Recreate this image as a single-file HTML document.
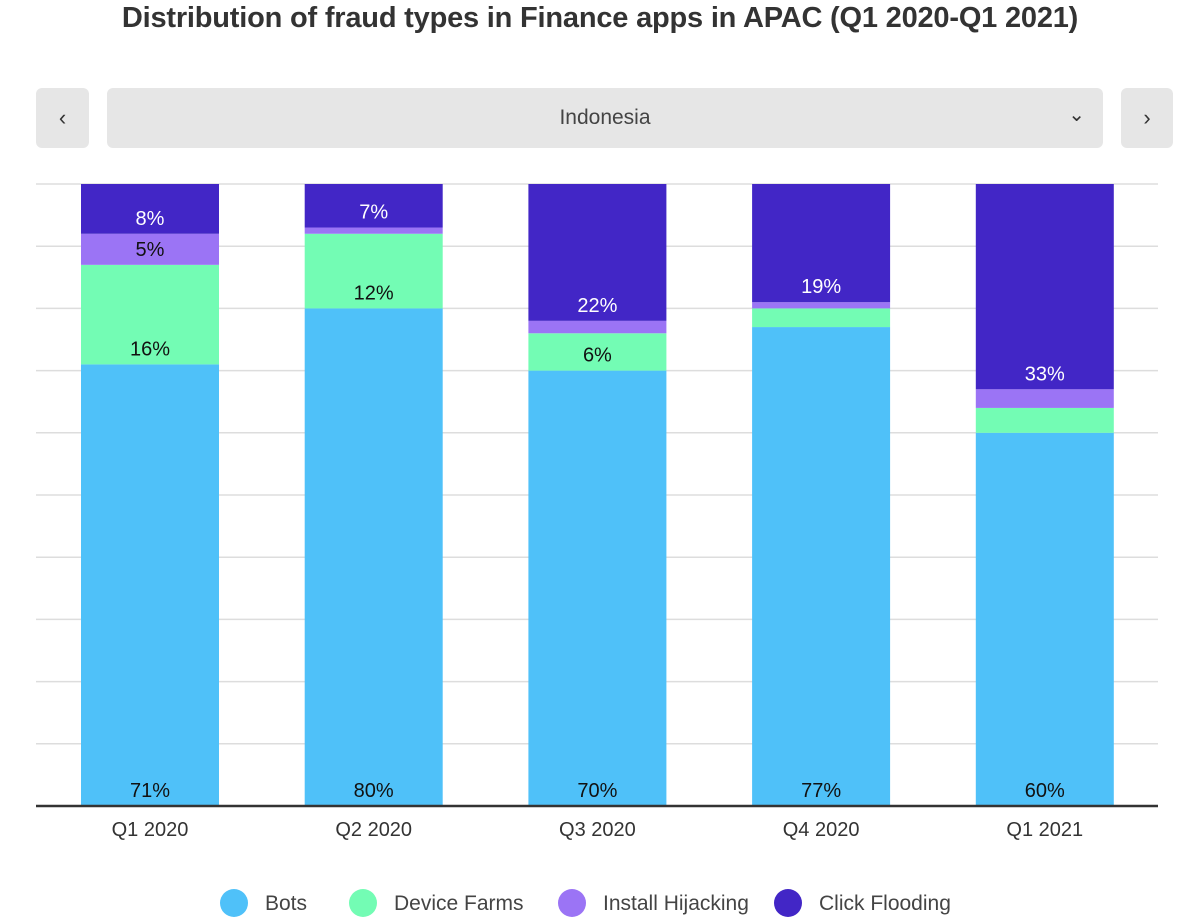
<!DOCTYPE html>
<html><head><meta charset="utf-8"><style>
body{margin:0;background:#fff;font-family:"Liberation Sans",sans-serif;}
.wrap{position:relative;width:1200px;height:922px;overflow:hidden}
h1{position:absolute;top:2px;left:0;width:1200px;text-align:center;margin:0;font-size:29px;font-weight:bold;color:#333;letter-spacing:-0.2px}
.btn{position:absolute;top:88px;height:60px;background:#e6e6e6;border-radius:6px;color:#333;font-size:22px;display:flex;align-items:center;justify-content:center}
</style></head><body>
<div class="wrap">
<h1>Distribution of fraud types in Finance apps in APAC (Q1 2020-Q1 2021)</h1>
<div class="btn" style="left:36px;width:53px">&#8249;</div>
<div class="btn" style="left:107px;width:996px"><span style="font-size:21px;color:#444">Indonesia</span><span style="position:absolute;right:18px;top:14px;font-size:20px">&#8964;</span></div>
<div class="btn" style="left:1121px;width:52px">&#8250;</div>
<svg id="chart" width="1200" height="922" style="position:absolute;left:0;top:0"></svg>
</div>
<script>
const categories=["Q1 2020","Q2 2020","Q3 2020","Q4 2020","Q1 2021"];
const seriesNames=["Bots","Device Farms","Install Hijacking","Click Flooding"];
const bots=[71,80,70,77,60];
const deviceFarms=[16,12,6,3,4];
const installHijacking=[5,1,2,1,3];
const clickFlooding=[8,7,22,19,33];
const colors=["#4fc1f9","#73fcb4","#9b74f5","#4226c6"];
const series=[bots,deviceFarms,installHijacking,clickFlooding];
const NS="http://www.w3.org/2000/svg";
const svg=document.getElementById('chart');
const y0=806,y1=184,left=36,right=1158;
const y=v=>y0-(y0-y1)*v/100;
const bw=138,step=223.7,firstX=81;
const xb=i=>firstX+i*step;
function mk(t,a){const e=document.createElementNS(NS,t);for(const k in a)e.setAttribute(k,a[k]);svg.appendChild(e);return e;}
for(let g=0;g<=100;g+=10){const l=mk('line',{x1:left,x2:right,y1:y(g),y2:y(g),stroke:'#ddd','stroke-width':1.5});

}
categories.forEach((c,i)=>{let acc=0;
 series.forEach((s,k)=>{const v=s[i];const r=mk('rect',{x:xb(i),y:y(acc+v),width:bw,height:y(acc)-y(acc+v),fill:colors[k]});
 
 
 if(v>=5){const t=mk('text',{x:xb(i)+bw/2,y:y(acc)-9,'text-anchor':'middle','font-size':20,fill:k==3?'#fff':'#111'});t.textContent=v+'%';
 
 }
 acc+=v;});
 const t=mk('text',{x:xb(i)+bw/2,y:836,'text-anchor':'middle','font-size':20,fill:'#333'});t.textContent=c;
 
 
});
const ax=mk('line',{x1:left,x2:right,y1:y0,y2:y0,stroke:'#333','stroke-width':2.5});


const lx=[234,363,572,788];
seriesNames.forEach((n,k)=>{const c=mk('circle',{cx:lx[k],cy:903,r:14,fill:colors[k]});


const t=mk('text',{x:lx[k]+31,y:910,'font-size':21,fill:'#444'});t.textContent=n;

});
</script>
</body></html>
